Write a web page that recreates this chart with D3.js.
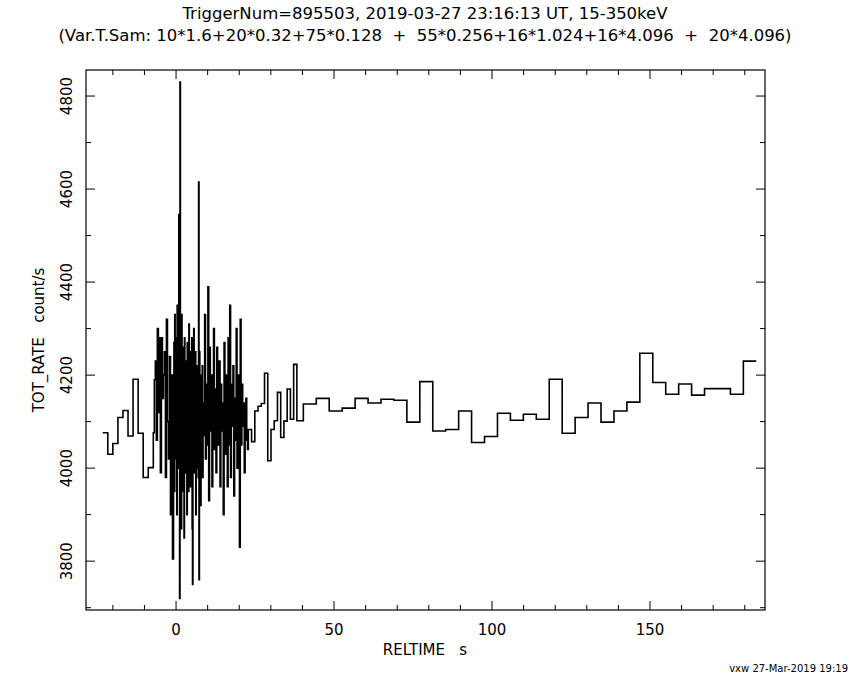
<!DOCTYPE html>
<html><head><meta charset="utf-8">
<script src="https://cdn.jsdelivr.net/npm/d3@7"></script>
<style>body{margin:0;background:#fff}svg{display:block}text{font-family:"DejaVu Sans",sans-serif;fill:#000}</style>
</head><body><svg id="c" width="850" height="680"></svg>
<script>
const startTime = -23.2;
const binWidths = [1.6, 0.32, 0.128, 0.256, 1.024, 4.096];
const rates1600 = [4076,4030,4053,4109,4124,4069,4191,4075,3980,4001];
const rates320 = [4076,4190,4230,4060,4300,4120,4280,3990,4280,4150,4200,4250,3980,4320,4100,4020,4240,3900,4200,3805];
const rates128 = [4150,4270,3950,4330,4100,4280,4020,4200,3900,4350,4080,4230,4000,4545,4100,3720,
  4830,4150,4290,3870,4330,4050,4260,3950,4200,4100,3850,4280,4120,3990,4230,4060,
  4180,3900,4270,4000,4150,3950,4310,4100,4050,4250,3960,4190,4080,4280,3870,3750,
  4200,4050,4300,3990,4150,4080,4250,3900,4180,4060,4220,4000,4130,3980,4615,3760,
  4250,4050,4200,3920,4160,4100,4090,4220,3980,4140,4070];
const rates256 = [4120,4330,4020,4180,4050,4390,3930,4260,4080,4200,3960,4150,4300,4040,4170,3990,4260,4100,4050,4230,
  3960,4180,4080,4140,3900,4270,4030,4200,4100,3960,4280,4050,4350,3980,4180,4090,4220,3940,4150,4060,
  4300,4000,4200,4120,3830,4320,4050,4180,4090,4140,3990,4060,4150,4080,4040];
const rates1024 = [4083,4057,4123,4133,4139,4204,4016,4083,4102,4163,4066,4101,4170,4105,4223,4102,4102];
const rates4096 = [4138,4150,4123,4129,4150,4140,4148,4146,4099,4186,4080,4083,4123,4055,4068,4118,4103,4116,4105,4191,
  4075,4109,4140,4099,4123,4142,4247,4184,4159,4181,4157,4171,4171,4159,4230];
const xTickLabels = [0,50,100,150];
const yTickLabels = [3800,4000,4200,4400,4600,4800];

const svg = d3.select("#c");
const L=86,R=765,T=70,B=610;
const x = d3.scaleLinear().domain([-28.5,186.4]).range([L,R]);
const y = d3.scaleLinear().domain([3695,4856]).range([B,T]);

const groups=[rates1600,rates320,rates128,rates256,rates1024,rates4096];
let t=startTime; const pts=[];
groups.forEach((g,gi)=>g.forEach(v=>{pts.push([t,v]);t+=binWidths[gi];pts.push([t,v]);}));
const line=d3.line().x(d=>x(d[0])).y(d=>y(d[1]));
svg.append("path").attr("d",line(pts)).attr("fill","none").attr("stroke","#000").attr("stroke-width",1.6);

svg.append("rect").attr("x",L).attr("y",T).attr("width",R-L).attr("height",B-T).attr("fill","none").attr("stroke","#000").attr("stroke-width",1.2);
const g=svg.append("g").attr("stroke","#000").attr("stroke-width",1);
d3.range(-20,190,10).forEach(v=>{
  const len = v%50===0?9:5; const px=x(v);
  g.append("line").attr("x1",px).attr("x2",px).attr("y1",B).attr("y2",B-len);
  g.append("line").attr("x1",px).attr("x2",px).attr("y1",T).attr("y2",T+len);
});
d3.range(3700,4900,100).forEach(v=>{
  const len = v%200===0?9:5; const py=y(v);
  g.append("line").attr("x1",L).attr("x2",L+len).attr("y1",py).attr("y2",py);
  g.append("line").attr("x1",R).attr("x2",R-len).attr("y1",py).attr("y2",py);
});
xTickLabels.forEach(v=>svg.append("text").attr("x",x(v)).attr("y",B+25).attr("text-anchor","middle").attr("font-size",15).text(v));
yTickLabels.forEach(v=>svg.append("text").attr("transform",`translate(${L-14},${y(v)}) rotate(-90)`).attr("text-anchor","middle").attr("font-size",15).text(v));
svg.append("text").attr("x",425).attr("y",655).attr("text-anchor","middle").attr("font-size",15).attr("xml:space","preserve").text("RELTIME   s");
svg.append("text").attr("transform",`translate(44,340) rotate(-90)`).attr("text-anchor","middle").attr("font-size",15).attr("xml:space","preserve").text("TOT_RATE   count/s");
svg.append("text").attr("x",425).attr("y",19).attr("text-anchor","middle").attr("font-size",16.5).text("TriggerNum=895503, 2019-03-27 23:16:13 UT, 15-350keV");
svg.append("text").attr("x",425).attr("y",41).attr("text-anchor","middle").attr("font-size",16.5).attr("xml:space","preserve").text("(Var.T.Sam: 10*1.6+20*0.32+75*0.128  +  55*0.256+16*1.024+16*4.096  +  20*4.096)");
svg.append("text").attr("x",848).attr("y",672).attr("text-anchor","end").attr("font-size",10).text("vxw 27-Mar-2019 19:19");
</script></body></html>
